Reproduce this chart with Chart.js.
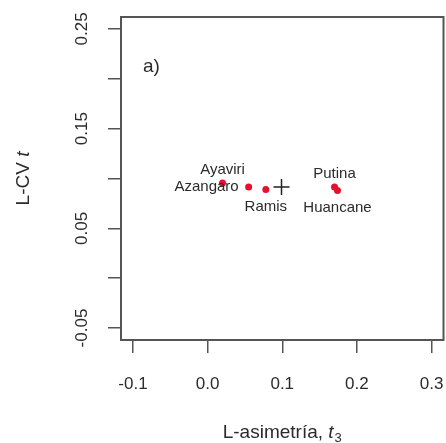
<!DOCTYPE html>
<html lang="es">
<head>
    <meta charset="UTF-8">
    <title>L-CV vs L-asimetría</title>
    <style>
        html, body {
            margin: 0;
            overflow: hidden;
            background-color: white;
        }
    </style>
</head>
<body>
    <!-- a few px wider than the window: Chart.js keeps ~9px on the right that we don't want -->
    <canvas id="lmomChart" width="453" height="443"></canvas>

    <script src="https://cdn.jsdelivr.net/npm/chart.js"></script>
    <script>
        // Stations and their L-moment ratios
        const stations = ['Ayaviri', 'Azangaro', 'Ramis', 'Putina', 'Huancane'];
        const lSkew = [0.020, 0.055, 0.078, 0.170, 0.174];   // t3
        const lCv = [0.0955, 0.0915, 0.089, 0.0915, 0.088];  // t
        const labelPos = ['above', 'left', 'below', 'above', 'below'];

        // Regional average (cross)
        const meanSkew = [0.099];
        const meanCv = [0.0915];

        // Axis ticks
        const xTicks = [-0.1, 0.0, 0.1, 0.2, 0.3];
        const xTickLabels = ['-0.1', '0.0', '0.1', '0.2', '0.3'];
        const yTicks = [-0.05, 0.00, 0.05, 0.10, 0.15, 0.20, 0.25];
        const yTickLabels = ['-0.05', '', '0.05', '', '0.15', '', '0.25'];

        const FONT = '"Liberation Sans", Arial, sans-serif';
        const TEXT = '#2b2b2b';

        const decorations = {
            id: 'decorations',
            afterDatasetsDraw(chart) {
                const ctx = chart.ctx;
                const meta = chart.getDatasetMeta(0);
                ctx.save();
                ctx.font = '15px ' + FONT;
                ctx.fillStyle = TEXT;
                meta.data.forEach((pt, i) => {
                    const p = labelPos[i];
                    if (p === 'above') {
                        ctx.textAlign = 'center';
                        ctx.textBaseline = 'alphabetic';
                        ctx.fillText(stations[i], pt.x, pt.y - 9);
                    } else if (p === 'below') {
                        ctx.textAlign = 'center';
                        ctx.textBaseline = 'top';
                        ctx.fillText(stations[i], pt.x, pt.y + 10);
                    } else {
                        ctx.textAlign = 'right';
                        ctx.textBaseline = 'middle';
                        ctx.fillText(stations[i], pt.x - 10, pt.y);
                    }
                });
                ctx.restore();
            },
            afterDraw(chart) {
                const ctx = chart.ctx;
                const a = chart.chartArea;
                ctx.save();
                // box around plot
                ctx.strokeStyle = '#555';
                ctx.lineWidth = 2;
                ctx.strokeRect(a.left, a.top, a.right - a.left, a.bottom - a.top);

                // panel tag
                ctx.fillStyle = TEXT;
                ctx.font = '19px ' + FONT;
                ctx.textAlign = 'left';
                ctx.textBaseline = 'alphabetic';
                ctx.fillText('a)', a.left + 22, a.top + 55);

                // x title: L-asimetría, t3
                const cx = (a.left + a.right) / 2;
                const yb = 438;
                const part1 = 'L-asimetría, ';
                ctx.font = '19px ' + FONT;
                const w1 = ctx.measureText(part1).width;
                ctx.font = 'italic 19px ' + FONT;
                const w2 = ctx.measureText('t').width;
                ctx.font = '13px ' + FONT;
                const w3 = ctx.measureText('3').width;
                let x0 = cx - (w1 + w2 + w3 + 1) / 2;
                ctx.font = '19px ' + FONT;
                ctx.fillText(part1, x0, yb);
                ctx.font = 'italic 19px ' + FONT;
                ctx.fillText('t', x0 + w1, yb);
                ctx.font = '13px ' + FONT;
                ctx.fillText('3', x0 + w1 + w2 + 1, yb + 4);

                // y title: L-CV t (rotated)
                ctx.translate(29, (a.top + a.bottom) / 2);
                ctx.rotate(-Math.PI / 2);
                ctx.font = '19px ' + FONT;
                const v1 = ctx.measureText('L-CV ').width;
                ctx.font = 'italic 19px ' + FONT;
                const v2 = ctx.measureText('t').width;
                const s = -(v1 + v2) / 2;
                ctx.font = '19px ' + FONT;
                ctx.fillText('L-CV ', s, 0);
                ctx.font = 'italic 19px ' + FONT;
                ctx.fillText('t', s + v1, 0);
                ctx.restore();
            }
        };

        const ctx = document.getElementById('lmomChart').getContext('2d');
        const chart = new Chart(ctx, {
            type: 'scatter',
            data: {
                datasets: [
                    {
                        label: 'Estaciones',
                        data: lSkew.map((x, i) => ({ x: x, y: lCv[i] })),
                        backgroundColor: '#e3112d',
                        borderColor: '#e3112d',
                        pointRadius: 3.5,
                        borderWidth: 0
                    },
                    {
                        label: 'Promedio regional',
                        data: meanSkew.map((x, i) => ({ x: x, y: meanCv[i] })),
                        pointStyle: 'cross',
                        pointRadius: 8,
                        borderColor: '#222',
                        borderWidth: 1.5
                    }
                ]
            },
            options: {
                responsive: false,
                animation: false,
                devicePixelRatio: 1,
                layout: { padding: { top: 17, right: 2, left: 0, bottom: 0 } },
                plugins: {
                    legend: { display: false },
                    tooltip: { enabled: false }
                },
                scales: {
                    x: {
                        type: 'linear',
                        min: -0.116,
                        max: 0.316,
                        afterBuildTicks: (scale) => { scale.ticks = xTicks.map(v => ({ value: v })); },
                        afterFit: (scale) => {
                            scale.height = 103;
                            scale.paddingLeft = 0;
                            scale.paddingRight = 0;
                        },
                        ticks: {
                            callback: (v, i) => xTickLabels[i],
                            font: { size: 17, family: FONT },
                            color: TEXT,
                            padding: 21,
                            maxRotation: 0
                        },
                        grid: {
                            drawOnChartArea: false,
                            drawTicks: true,
                            tickLength: 13,
                            color: '#555',
                            lineWidth: 1.5
                        },
                        border: { display: false }
                    },
                    y: {
                        type: 'linear',
                        min: -0.062,
                        max: 0.262,
                        afterBuildTicks: (scale) => { scale.ticks = yTicks.map(v => ({ value: v })); },
                        afterFit: (scale) => {
                            scale.width = 121;
                            scale.paddingTop = 0;
                            scale.paddingBottom = 0;
                        },
                        ticks: {
                            callback: (v, i) => yTickLabels[i],
                            font: { size: 17, family: FONT },
                            color: TEXT,
                            padding: 6,
                            minRotation: 90,
                            maxRotation: 90,
                            crossAlign: 'center'
                        },
                        grid: {
                            drawOnChartArea: false,
                            drawTicks: true,
                            tickLength: 13,
                            color: '#555',
                            lineWidth: 1.5
                        },
                        border: { display: false }
                    }
                }
            },
            plugins: [decorations]
        });
    </script>
</body>
</html>
